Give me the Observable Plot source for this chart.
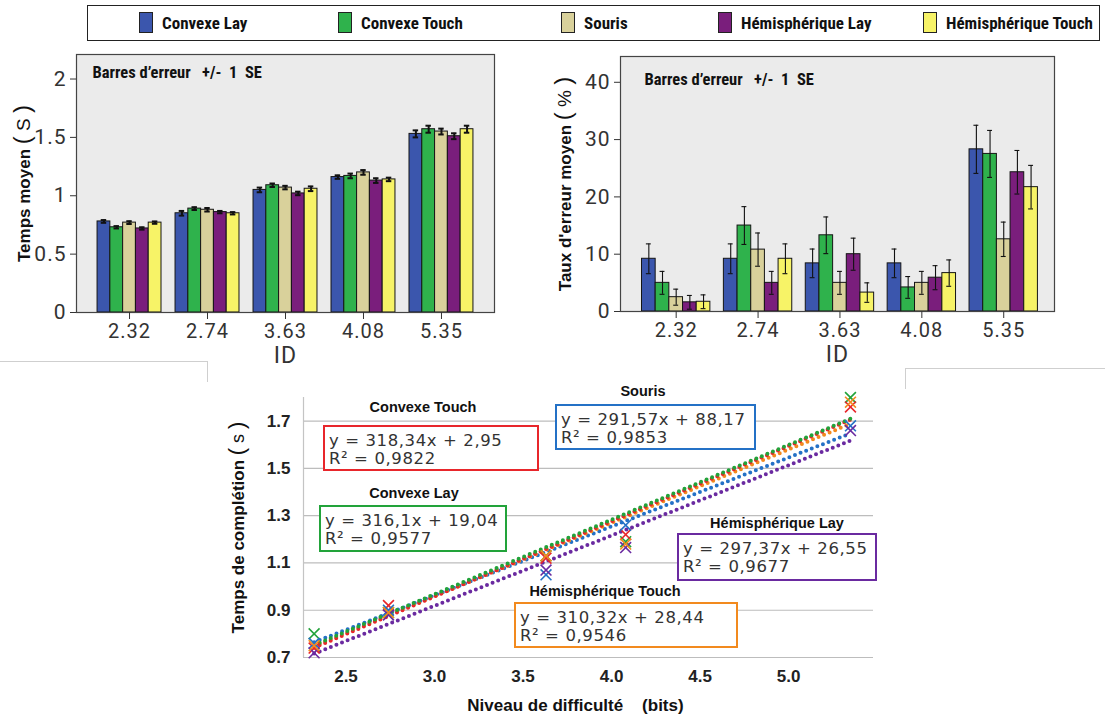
<!DOCTYPE html>
<html><head><meta charset="utf-8">
<script src="https://cdn.jsdelivr.net/npm/d3@7"></script>
<script src="https://cdn.jsdelivr.net/npm/@observablehq/plot@0.6"></script>
<style>
body{margin:0;background:#fff;}
#page{position:relative;width:1105px;height:719px;overflow:hidden;font-family:Roboto,"Liberation Sans",sans-serif;}
.abs{position:absolute;}
#legend{left:87px;top:5px;width:1013px;height:36px;border:1.5px solid #222;box-sizing:border-box;}
.item{position:absolute;top:6px;display:flex;align-items:center;white-space:nowrap;font:bold 17px "Liberation Sans Narrow","Roboto Condensed",Roboto,sans-serif;color:#111;}
.sw{width:12px;height:19px;border:1px solid #222;margin-right:9px;flex:none;}
.chart svg{overflow:visible;}
.top g[aria-label="x-axis tick label"]{font-size:20px;letter-spacing:1px;fill:#333;}
.top g[aria-label="y-axis tick label"]{font-size:21px;letter-spacing:1px;fill:#333;}
.top g[aria-label="x-axis label"]{font-size:23px;letter-spacing:1px;fill:#333;}
.top g[aria-label="y-axis label"]{font-size:17px;font-weight:bold;fill:#111;font-family:"Liberation Sans",Roboto,sans-serif;}
.bot g[aria-label="x-axis tick label"], .bot g[aria-label="y-axis tick label"]{font-size:17px;font-weight:bold;fill:#222;font-family:"Liberation Sans",Roboto,sans-serif;}
.bot g[aria-label="y-axis label"]{font-size:17px;font-weight:bold;fill:#111;font-family:"Liberation Sans",Roboto,sans-serif;}
.ann-title{position:absolute;font:bold 14.5px "Liberation Sans",Roboto,sans-serif;color:#111;transform:translateX(-50%);white-space:nowrap;}
.ann-box{position:absolute;box-sizing:border-box;border:2px solid;background:#fff;padding:5px 0 0 4px;font:16.5px "DejaVu Sans",sans-serif;letter-spacing:0.6px;line-height:18px;color:#333;white-space:nowrap;}
.edge{position:absolute;border-color:#cfcfcf;border-style:solid;border-width:0;}
</style></head>
<body><div id="page">
<div id="legend" class="abs"></div>
<div id="tl" class="abs chart top" style="left:0;top:40px;"></div>
<div id="tr" class="abs chart top" style="left:540px;top:40px;"></div>
<div class="edge" style="left:0;top:361px;width:207px;height:20px;border-top-width:1px;border-right-width:1px;"></div>
<div class="edge" style="left:905px;top:368px;width:200px;height:20px;border-top-width:1px;border-left-width:1px;"></div>
<div id="bt" class="abs chart bot" style="left:207px;top:362px;"></div>
<div id="ann"></div>
</div>
<script>
// ---------- data ----------
const ids = ["2.32", "2.74", "3.63", "4.08", "5.35"];
const idValues = [2.32, 2.74, 3.63, 4.08, 5.35];
const series = ["Convexe Lay", "Convexe Touch", "Souris", "Hémisphérique Lay", "Hémisphérique Touch"];
const barColors = ["#3b56ad", "#2fb24c", "#d9d19b", "#7a1e7c", "#f7f367"];

// Temps moyen (s)
const timeConvexeLay = [0.78, 0.85, 1.05, 1.16, 1.53];
const timeConvexeTouch = [0.73, 0.89, 1.09, 1.17, 1.57];
const timeSouris = [0.77, 0.88, 1.07, 1.20, 1.55];
const timeHemiLay = [0.72, 0.86, 1.02, 1.13, 1.51];
const timeHemiTouch = [0.77, 0.85, 1.06, 1.14, 1.57];
const timeSeConvexeLay = [0.012, 0.02, 0.02, 0.015, 0.03];
const timeSeConvexeTouch = [0.01, 0.012, 0.015, 0.02, 0.03];
const timeSeSouris = [0.012, 0.015, 0.015, 0.02, 0.025];
const timeSeHemiLay = [0.01, 0.01, 0.015, 0.02, 0.025];
const timeSeHemiTouch = [0.01, 0.01, 0.02, 0.015, 0.03];

// Taux d'erreur moyen (%)
const errConvexeLay = [9.2, 9.2, 8.4, 8.4, 28.3];
const errConvexeTouch = [5.0, 15.0, 13.3, 4.2, 27.5];
const errSouris = [2.5, 10.8, 5.0, 5.0, 12.6];
const errHemiLay = [1.6, 5.0, 10.0, 5.9, 24.3];
const errHemiTouch = [1.7, 9.2, 3.3, 6.7, 21.7];
const errSeConvexeLay = [2.6, 2.6, 2.5, 2.5, 4.2];
const errSeConvexeTouch = [2.0, 3.3, 3.2, 1.9, 4.1];
const errSeSouris = [1.4, 2.9, 2.0, 2.0, 3.0];
const errSeHemiLay = [1.2, 2.0, 2.8, 2.1, 3.8];
const errSeHemiTouch = [1.2, 2.6, 1.7, 2.3, 3.8];

// Temps de complétion (s) – scatter points
const compConvexeLay = [0.80, 0.89, 1.13, 1.19, 1.80];
const compConvexeTouch = [0.74, 0.92, 1.12, 1.22, 1.76];
const compSouris = [0.76, 0.90, 1.05, 1.26, 1.68];
const compHemiLay = [0.72, 0.88, 1.07, 1.165, 1.66];
const compHemiTouch = [0.75, 0.89, 1.13, 1.18, 1.78];
// trend lines (ms): y = a x + b
const trendSlope = [316.1, 318.34, 291.57, 297.37, 310.32];
const trendIntercept = [19.04, 2.95, 88.17, 26.55, 28.44];
const trendR2 = [0.9577, 0.9822, 0.9853, 0.9677, 0.9546];
const scatterColors = ["#22a33a", "#e8262b", "#2471c6", "#6a2aa0", "#f28a1e"];

const timeYTicks = [0, 0.5, 1, 1.5, 2];
const errYTicks = [0, 10, 20, 30, 40];
const compYTicks = [0.7, 0.9, 1.1, 1.3, 1.5, 1.7];
const compXTicks = [2.5, 3.0, 3.5, 4.0, 4.5, 5.0];

// ---------- legend ----------
const legendLefts = [51, 250, 473, 630, 835];
const legend = document.getElementById("legend");
series.forEach((s, j) => {
  const it = document.createElement("div");
  it.className = "item";
  it.style.left = legendLefts[j] + "px";
  it.innerHTML = `<div class="sw" style="background:${barColors[j]}"></div><span>${s}</span>`;
  legend.appendChild(it);
});

const NB = "\u00a0";
function setLabel(svg, axis, parts) {
  const t = svg.querySelector(`g[aria-label="${axis}-axis label"] text`);
  if (!t) return;
  t.textContent = "";
  for (const [s, attrs] of parts) {
    const ts = document.createElementNS("http://www.w3.org/2000/svg", "tspan");
    ts.textContent = s;
    for (const k in attrs) ts.setAttribute(k, attrs[k]);
    t.appendChild(ts);
  }
}

// ---------- bar charts ----------
function barChart(o) {
  const rows = [];
  series.forEach((s, j) => ids.forEach((id, i) => {
    const x1 = i + (j - 2.5) * o.bw;
    rows.push({series: s, i, x1, x2: x1 + o.bw, xc: x1 + o.bw / 2, v: o.means[j][i], se: o.ses[j][i]});
  }));
  return Plot.plot({
    width: o.width, height: o.height,
    marginLeft: o.mL, marginRight: o.mR, marginTop: o.mT, marginBottom: o.mB,
    style: {fontFamily: "Roboto, sans-serif", fontSize: "19px", color: "#333", background: "transparent"},
    x: {type: "linear", domain: o.xDomain},
    y: {domain: o.yDomain},
    color: {domain: series, range: barColors},
    marks: [
      Plot.frame({fill: "#ebebeb", stroke: "none"}),
      Plot.rect(rows, {x1: "x1", x2: "x2", y1: 0, y2: "v", fill: "series", stroke: "#151515", strokeWidth: 1}),
      Plot.ruleX(rows, {x: "xc", y1: d => d.v - d.se, y2: d => d.v + d.se, stroke: "#111", strokeWidth: o.ew}),
      Plot.ruleY(rows, {y: d => d.v + d.se, x1: d => d.xc - o.cap, x2: d => d.xc + o.cap, stroke: "#111", strokeWidth: o.ew}),
      Plot.ruleY(rows, {y: d => d.v - d.se, x1: d => d.xc - o.cap, x2: d => d.xc + o.cap, stroke: "#111", strokeWidth: o.ew}),
      Plot.frame({stroke: "#444", strokeWidth: 1.2}),
      Plot.axisX({ticks: ids.map((_, i) => i), tickFormat: i => ids[i], tickSize: 7, tickPadding: 4,
        label: "ID", labelAnchor: "center", labelOffset: 50}),
      Plot.axisY({ticks: o.yTicks, tickFormat: d => String(d), tickSize: 6, tickPadding: 4,
        label: o.ylabel, labelAnchor: "center", labelOffset: o.lo}),
      Plot.text([o.note], {text: d => d, frameAnchor: "top-left", dx: o.ndx, dy: o.ndy, textAnchor: "start", lineAnchor: "middle",
        fontFamily: "'Liberation Sans Narrow', 'Roboto Condensed', sans-serif", fontWeight: "bold", fontSize: 16.5, fill: "#111"})
    ]
  });
}
const note = "Barres d’erreur" + NB + NB + " +/-" + NB + " 1" + NB + " SE";

const tl = barChart({
  width: 540, height: 330, mL: 76, mR: 46, mT: 14, mB: 58,
  xDomain: [-0.68, 4.68], yDomain: [0, 2.21], yTicks: timeYTicks, bw: 0.164, cap: 0.035, ew: 2,
  means: [timeConvexeLay, timeConvexeTouch, timeSouris, timeHemiLay, timeHemiTouch],
  ses: [timeSeConvexeLay, timeSeConvexeTouch, timeSeSouris, timeSeHemiLay, timeSeHemiTouch],
  ylabel: "Temps moyen (S)", lo: 59, note, ndx: 16, ndy: 18
});
setLabel(tl, "y", [["Temps moyen" + NB, {}], ["(", {"font-weight": "normal", "font-size": "24"}], [NB + "S" + NB, {"font-weight": "normal", "font-size": "19"}], [")", {"font-weight": "normal", "font-size": "24"}]]);
setLabel(tl, "x", [["ID", {}]]);
document.getElementById("tl").appendChild(tl);

const tr = barChart({
  width: 565, height: 330, mL: 80, mR: 51, mT: 16, mB: 59,
  xDomain: [-0.68, 4.62], yDomain: [0, 44.5], yTicks: errYTicks, bw: 0.167, cap: 0.03, ew: 1.1,
  means: [errConvexeLay, errConvexeTouch, errSouris, errHemiLay, errHemiTouch],
  ses: [errSeConvexeLay, errSeConvexeTouch, errSeSouris, errSeHemiLay, errSeHemiTouch],
  ylabel: "Taux d'erreur moyen (%)", lo: 62, note, ndx: 24, ndy: 23
});
setLabel(tr, "y", [["Taux d'erreur moyen" + NB, {}], ["(", {"font-weight": "normal", "font-size": "24"}], [NB + "%" + NB, {"font-weight": "normal", "font-size": "19"}], [")", {"font-weight": "normal", "font-size": "24"}]]);
setLabel(tr, "x", [["ID", {}]]);
document.getElementById("tr").appendChild(tr);

// ---------- scatter + trend lines ----------
const compSeries = [compConvexeLay, compConvexeTouch, compSouris, compHemiLay, compHemiTouch];
const points = [];
series.forEach((s, j) => idValues.forEach((x, i) => points.push({series: s, x, y: compSeries[j][i]})));
const drawOrder = [3, 2, 4, 1, 0];
const trends = [];
drawOrder.forEach(j => [idValues[0], idValues[idValues.length - 1]].forEach(x =>
  trends.push({series: series[j], x, y: (trendSlope[j] * x + trendIntercept[j]) / 1000})));
const xDomainB = [2.26, 5.48];

const bt = Plot.plot({
  width: 698, height: 357, marginLeft: 96, marginRight: 32, marginTop: 35, marginBottom: 62,
  style: {fontFamily: "'Liberation Sans', sans-serif", fontSize: "17px", color: "#222", background: "transparent"},
  x: {domain: xDomainB},
  y: {domain: [0.7, 1.8]},
  color: {domain: series, range: scatterColors},
  marks: [
    Plot.gridY({ticks: compYTicks, stroke: "#bdbdbd", strokeOpacity: 1, strokeWidth: 1.2}),
    Plot.ruleX([xDomainB[0]], {stroke: "#c4c4c4", strokeWidth: 1.2}),
    Plot.line(trends, {x: "x", y: "y", z: "series", stroke: "series", strokeWidth: 4, strokeDasharray: "0 6", strokeLinecap: "round"}),
    Plot.dot(points, {x: "x", y: "y", stroke: "series", symbol: "times", r: 5, strokeWidth: 1.6}),
    Plot.axisX({ticks: compXTicks, tickFormat: d3.format(".1f"), tickSize: 0, tickPadding: 12, label: null}),
    Plot.axisY({ticks: compYTicks, tickFormat: d3.format(".1f"), tickSize: 0, tickPadding: 13,
      label: "Temps de complétion (s)", labelAnchor: "center", labelOffset: 72}),
    Plot.text(["Niveau de difficulté" + NB + NB + NB + NB + "(bits)"], {text: d => d, frameAnchor: "bottom", dy: 48, dx: -13,
      fontWeight: "bold", fontSize: 17, fill: "#111", lineAnchor: "middle"})
  ]
});
setLabel(bt, "y", [["Temps de complétion" + NB, {}], ["(", {"font-weight": "normal", "font-size": "22"}], [NB + "s" + NB, {"font-weight": "normal", "font-size": "18"}], [")", {"font-weight": "normal", "font-size": "22"}]]);
document.getElementById("bt").appendChild(bt);

// ---------- equation annotations ----------
const annTitleX = [414, 423, 643, 777, 605];
const annTitleY = [485, 399, 383, 515, 583];
const annBox = [[319, 505, 188, 47], [323, 425, 216, 46], [555, 404, 201, 46], [677, 533, 200, 48], [514, 602, 224, 46]];
const fr = v => String(v).replace(".", ",");
const ann = document.getElementById("ann");
series.forEach((s, j) => {
  const t = document.createElement("div");
  t.className = "ann-title";
  t.style.left = annTitleX[j] + "px"; t.style.top = annTitleY[j] + "px";
  t.textContent = s;
  ann.appendChild(t);
  const b = document.createElement("div");
  b.className = "ann-box";
  const [l, tp, w, h] = annBox[j];
  Object.assign(b.style, {left: l + "px", top: tp + "px", width: w + "px", height: h + "px", borderColor: scatterColors[j]});
  b.innerHTML = `y = ${fr(trendSlope[j])}x + ${fr(trendIntercept[j])}<br>R² = ${fr(trendR2[j])}`;
  ann.appendChild(b);
});
</script>
</body></html>
